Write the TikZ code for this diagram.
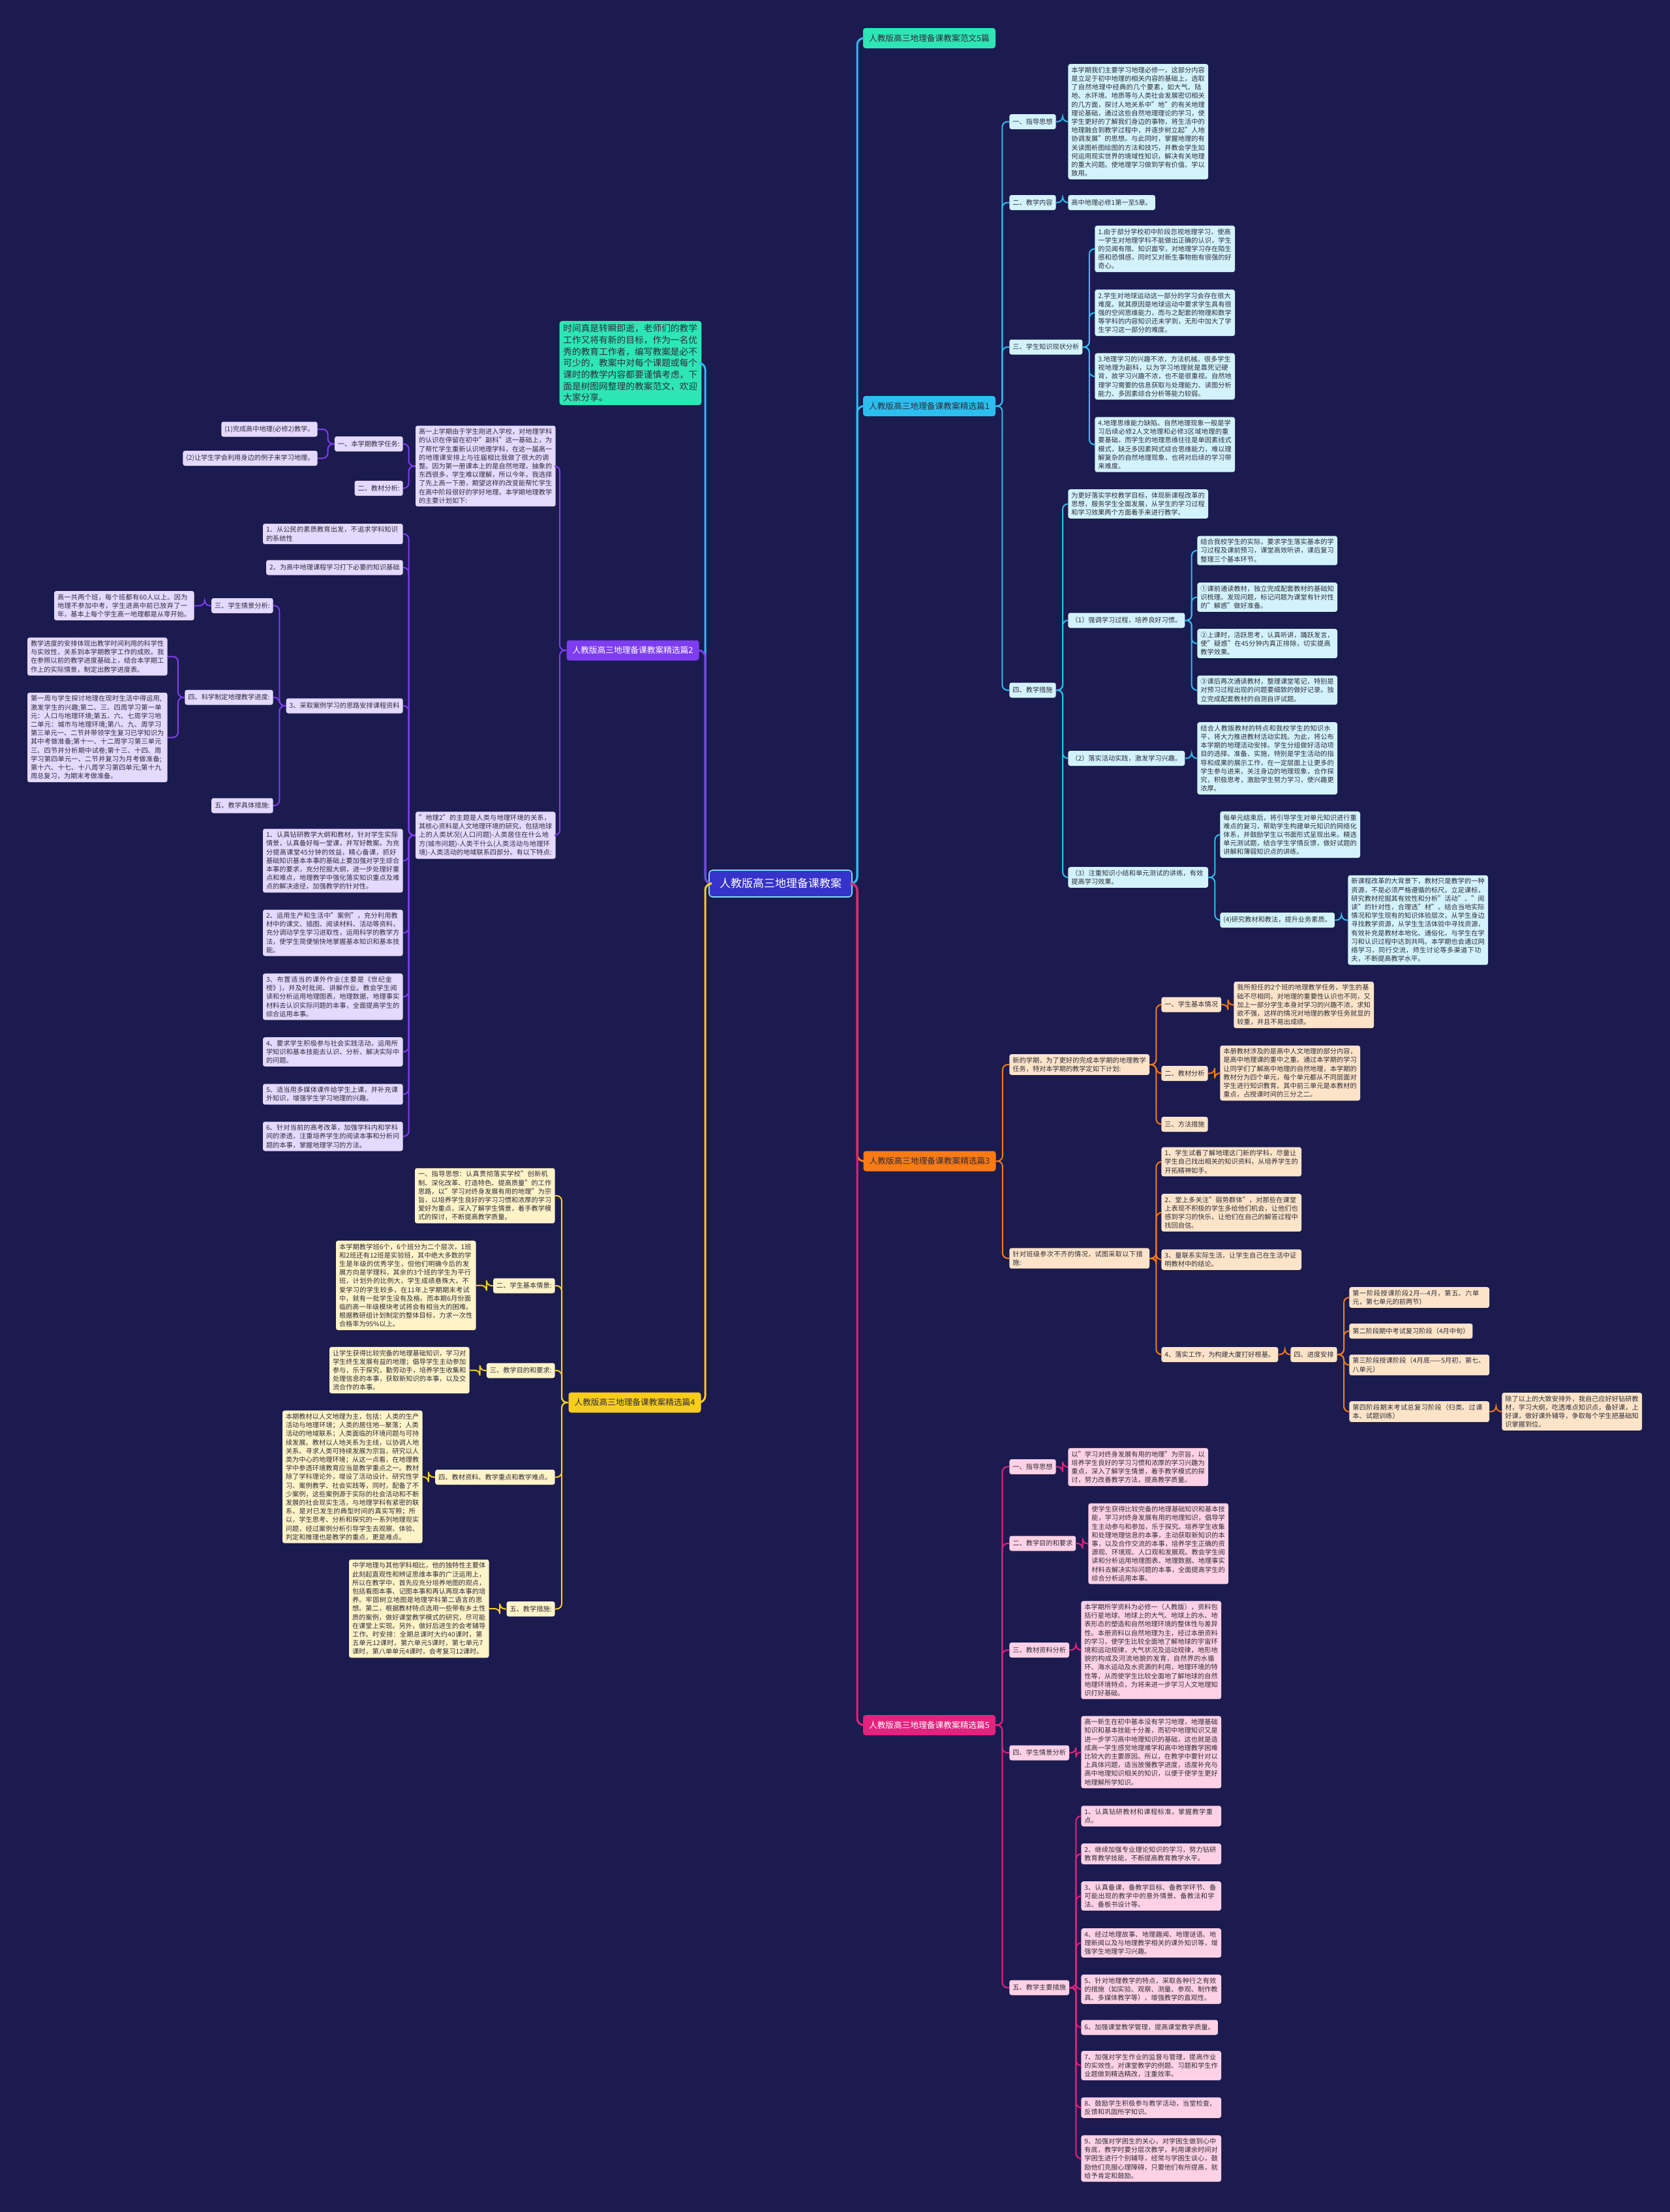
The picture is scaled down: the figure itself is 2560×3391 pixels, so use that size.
\documentclass[tikz,border=0pt]{standalone}
\usepackage{fontspec}
\setmainfont{Noto Sans CJK SC}
\XeTeXlinebreaklocale "zh"
\XeTeXlinebreakskip=0pt plus 0.6pt
\definecolor{bg}{HTML}{1B1B50}
\definecolor{txt}{HTML}{2E2E3A}
\definecolor{c0}{HTML}{2EE6B4}
\definecolor{c1}{HTML}{2BBFEF}
\definecolor{c1l}{HTML}{D3F3FC}
\definecolor{c2}{HTML}{7E3DF0}
\definecolor{c2l}{HTML}{E4D9FF}
\definecolor{c3}{HTML}{FA7A14}
\definecolor{c3l}{HTML}{FDE4C9}
\definecolor{c4}{HTML}{F9CD1C}
\definecolor{c4l}{HTML}{FFF3C8}
\definecolor{c5}{HTML}{E5227E}
\definecolor{c5l}{HTML}{FFD1E6}
\definecolor{rootc}{HTML}{3533C9}
\newcommand\fsz{\fontsize{5.1pt}{6.6pt}\selectfont}
\newcommand\labfsz{\fontsize{6.35pt}{7.5pt}\selectfont}
\newcommand\introfsz{\fontsize{6.85pt}{8.85pt}\selectfont}
\newcommand\rootfsz{\fontsize{8.5pt}{10pt}\selectfont}
\newcommand\edR[3]{\draw[#1] (#2.east) -- ++(10,0) |- (#3.west);}
\newcommand\edL[3]{\draw[#1] (#2.west) -- ++(-10,0) |- (#3.east);}
\begin{document}
\begin{tikzpicture}[x=0.5pt,y=-0.5pt,
  base/.style={rounded corners=1.6pt, inner xsep=2.5pt, inner ysep=2.2pt, font=\fsz, text=txt, align=left},
  tb/.style={base, text width=102.3pt},
  sl/.style={base, minimum height=11.5pt},
  f1/.style={fill=c1l}, f2/.style={fill=c2l}, f3/.style={fill=c3l}, f4/.style={fill=c4l}, f5/.style={fill=c5l},
  l1/.style={draw=c1, line width=1pt, rounded corners=4pt},
  l2/.style={draw=c2, line width=1pt, rounded corners=4pt},
  l3/.style={draw=c3, line width=1pt, rounded corners=4pt},
  l4/.style={draw=c4, line width=1pt, rounded corners=4pt},
  l5/.style={draw=c5, line width=1pt, rounded corners=4pt},
  mainline/.style={line width=1.5pt, rounded corners=5pt},
  lab/.style={rounded corners=2pt, font=\labfsz, text=txt, minimum width=101.5pt, minimum height=15.5pt, inner sep=2pt},
  rootbox/.style={rounded corners=2.5pt, font=\rootfsz, text=white, fill=rootc, draw=c1!60!white, line width=0.8pt, minimum width=109.5pt, minimum height=20.5pt},
  introbox/.style={rounded corners=2pt, font=\introfsz, text=txt, fill=c0, align=left, text width=103.2pt, inner xsep=2.8pt, inner ysep=2.5pt}
]
\fill[bg] (0,0) rectangle (2560,3391);
\useasboundingbox (0,0) rectangle (2560,3391);

% ---------- root and branch labels
\node[rootbox] (R) at (1196.5,1354.5) {人教版高三地理备课教案};
\node[introbox] (I) at (966.5,556.5) {时间真是转瞬即逝，老师们的教学工作又将有新的目标，作为一名优秀的教育工作者，编写教案是必不可少的，教案中对每个课题或每个课时的教学内容都要谨慎考虑，下面是树图网整理的教案范文，欢迎大家分享。};
\node[lab, fill=c0] (L0) at (1424.5,58.5) {人教版高三地理备课教案范文5篇};
\node[lab, fill=c1] (L1) at (1424.5,622.5) {人教版高三地理备课教案精选篇1};
\node[lab, fill=c3] (L3) at (1425,1780) {人教版高三地理备课教案精选篇3};
\node[lab, fill=c5, text=white] (L5) at (1424.5,2644.5) {人教版高三地理备课教案精选篇5};
\node[lab, fill=c2, text=white] (L2) at (970,997) {人教版高三地理备课教案精选篇2};
\node[lab, fill=c4] (L4) at (973,2150) {人教版高三地理备课教案精选篇4};

\draw[mainline, draw=c1] (R.east) -- (1314,1354.5) |- (L0.west);
\draw[mainline, draw=c1] (R.east) -- (1314,1354.5) |- (L1.west);
\draw[mainline, draw=c3] (R.east) -- (1314,1354.5) |- (L3.west);
\draw[mainline, draw=c5] (R.east) -- (1314,1354.5) |- (L5.west);
\draw[mainline, draw=c1] (R.west) -- (1081,1354.5) |- (I.east);
\draw[mainline, draw=c2] (R.west) -- (1081,1354.5) |- (L2.east);
\draw[mainline, draw=c4] (R.west) -- (1081,1354.5) |- (L4.east);

% ---------- 精选篇1
\node[sl, f1, anchor=west] (A1) at (1547,186.5) {一、指导思想};
\node[tb, f1, anchor=west] (A1t) at (1637,186.5) {本学期我们主要学习地理必修一，这部分内容是立足于初中地理的相关内容的基础上，选取了自然地理中经典的几个要素，如大气、陆地、水环境、地质等与人类社会发展密切相关的几方面，探讨人地关系中"地"的有关地理理论基础，通过这些自然地理理论的学习，使学生更好的了解我们身边的事物，将生活中的地理融合到教学过程中，并逐步树立起"人地协调发展"的思想。与此同时，掌握地理的有关读图析图绘图的方法和技巧，并教会学生如何运用现实世界的境域性知识，解决有关地理的重大问题。使地理学习做到学有价值、学以致用。};
\node[sl, f1, anchor=west] (A2) at (1547,310.5) {二、教学内容};
\node[sl, f1, anchor=west] (A2t) at (1637,310.5) {高中地理必修1第一至5章。};
\node[sl, f1, anchor=west] (A3) at (1547,532) {三、学生知识现状分析};
\node[tb, f1, anchor=west] (A3a) at (1678,381.5) {1.由于部分学校初中阶段忽视地理学习，使高一学生对地理学科不能做出正确的认识，学生的见闻有限、知识面窄，对地理学习存在陌生感和恐惧感，同时又对新生事物抱有很强的好奇心。};
\node[tb, f1, anchor=west] (A3b) at (1678,479.5) {2.学生对地球运动这一部分的学习会存在很大难度。就其原因是地球运动中要求学生具有很强的空间思维能力，而与之配套的物理和数学等学科的内容知识还未学到，无形中加大了学生学习这一部分的难度。};
\node[tb, f1, anchor=west] (A3c) at (1678,577) {3.地理学习的兴趣不浓，方法机械。很多学生视地理为副科，以为学习地理就是靠死记硬背，故学习兴趣不浓，也不是很重视。自然地理学习需要的信息获取与处理能力、读图分析能力、多因素综合分析等能力较弱。};
\node[tb, f1, anchor=west] (A3d) at (1678,681.5) {4.地理思维能力缺陷。自然地理现象一般是学习后续必修2人文地理和必修3区域地理的重要基础，而学生的地理思维往往是单因素线式模式，缺乏多因素网式综合思维能力，难以理解复杂的自然地理现象，也将对后续的学习带来难度。};
\node[sl, f1, anchor=west] (A4) at (1547,1058) {四、教学措施};
\node[tb, f1, anchor=west] (A4a) at (1637,772.5) {为更好落实学校教学目标，体现新课程改革的思想，服务学生全面发展，从学生的学习过程和学习效果两个方面着手来进行教学。};
\node[sl, f1, anchor=west] (A4b) at (1637,951) {（1）强调学习过程，培养良好习惯。};
\node[tb, f1, anchor=west] (A4b1) at (1835,844) {结合我校学生的实际，要求学生落实基本的学习过程及课前预习，课堂高效听讲，课后复习整理三个基本环节。};
\node[tb, f1, anchor=west] (A4b2) at (1835,915.5) {①课前通读教材，独立完成配套教材的基础知识梳理。发现问题，标记问题为课堂有针对性的"解惑"做好准备。};
\node[tb, f1, anchor=west] (A4b3) at (1835,986.5) {②上课时，活跃思考，认真听讲，踊跃发言，使"疑惑"在45分钟内真正排除，切实提高教学效果。};
\node[tb, f1, anchor=west] (A4b4) at (1835,1058) {③课后再次通读教材，整理课堂笔记，特别是对预习过程出现的问题要细致的做好记录。独立完成配套教材的自测自评试题。};
\node[sl, f1, anchor=west] (A4c) at (1637,1162.5) {（2）落实活动实践，激发学习兴趣。};
\node[tb, f1, anchor=west] (A4c1) at (1835,1162.5) {结合人教版教材的特点和我校学生的知识水平，将大力推进教材活动实践。为此，将公布本学期的地理活动安排。学生分组做好活动项目的选择、准备、实施，特别是学生活动的指导和成果的展示工作，在一定层面上让更多的学生参与进来，关注身边的地理现象，合作探究，积极思考，激励学生努力学习，使兴趣更浓厚。};
\node[tb, f1, anchor=west] (A4d) at (1637,1345) {（3）注重知识小结和单元测试的讲练，有效提高学习效果。};
\node[tb, f1, anchor=west] (A4d1) at (1870,1279.5) {每单元结束后，将引导学生对单元知识进行重难点的复习，帮助学生构建单元知识的网络化体系，并鼓励学生以书面形式呈现出来。精选单元测试题，结合学生学情反馈，做好试题的讲解和薄弱知识点的讲练。};
\node[sl, f1, anchor=west] (A4d2) at (1870,1410.5) {(4)研究教材和教法，提升业务素质。};
\node[tb, f1, anchor=west] (A4d2a) at (2066,1410.5) {新课程改革的大背景下，教材只是教学的一种资源，不是必须严格遵循的标尺。立足课标，研究教材挖掘其有效性和分析"活动"、"阅读"的针对性，合理选"材"。结合当地实际情况和学生现有的知识体验层次，从学生身边寻找教学资源，从学生生活体验中寻找资源，有效补充是教材本地化、通俗化，与学生在学习和认识过程中达到共鸣。本学期也会通过网络学习，同行交流，师生讨论等多渠道下功夫，不断提高教学水平。};

\edR{l1}{L1}{A1} \edR{l1}{L1}{A2} \edR{l1}{L1}{A3} \edR{l1}{L1}{A4}
\edR{l1}{A1}{A1t} \edR{l1}{A2}{A2t}
\edR{l1}{A3}{A3a} \edR{l1}{A3}{A3b} \edR{l1}{A3}{A3c} \edR{l1}{A3}{A3d}
\edR{l1}{A4}{A4a} \edR{l1}{A4}{A4b} \edR{l1}{A4}{A4c} \edR{l1}{A4}{A4d}
\edR{l1}{A4b}{A4b1} \edR{l1}{A4b}{A4b2} \edR{l1}{A4b}{A4b3} \edR{l1}{A4b}{A4b4}
\edR{l1}{A4c}{A4c1}
\edR{l1}{A4d}{A4d1} \edR{l1}{A4d}{A4d2} \edR{l1}{A4d2}{A4d2a}

% ---------- 精选篇3
\node[tb, f3, anchor=west] (B1) at (1547,1632) {新的学期，为了更好的完成本学期的地理教学任务，特对本学期的教学定如下计划:};
\node[sl, f3, anchor=west] (B1a) at (1780,1540) {一、学生基本情况};
\node[tb, f3, anchor=west] (B1at) at (1891,1540.5) {我所担任的2个班的地理教学任务，学生的基础不尽相同，对地理的重要性认识也不同，又加上一部分学生本身对学习的兴趣不浓，求知欲不强，这样的情况对地理的教学任务就显的较重，并且不易出成绩。};
\node[sl, f3, anchor=west] (B1b) at (1780,1645.5) {二、教材分析};
\node[tb, f3, anchor=west] (B1bt) at (1870,1645) {本册教材涉及的是高中人文地理的部分内容，是高中地理课的重中之重。通过本学期的学习让同学们了解高中地理的自然地理，本学期的教材分为四个单元，每个单元都从不同层面对学生进行知识教育。其中前三单元是本教材的重点，占授课时间的三分之二。};
\node[sl, f3, anchor=west] (B1c) at (1780,1723.5) {三、方法措施};
\node[tb, f3, anchor=west] (B2) at (1547,1929) {针对班级参次不齐的情况，试图采取以下措施:};
\node[tb, f3, anchor=west] (B2a) at (1780,1781) {1、学生试着了解地理这门新的学科，尽量让学生自己找出相关的知识资料，从培养学生的开拓精神如手。};
\node[tb, f3, anchor=west] (B2b) at (1780,1859) {2、堂上多关注"弱势群体"，对那些在课堂上表现不积极的学生多给他们机会，让他们也感到学习的快乐，让他们在自己的解答过程中找回自信。};
\node[tb, f3, anchor=west] (B2c) at (1780,1931) {3、量联系实际生活，让学生自己在生活中证明教材中的结论。};
\node[sl, f3, anchor=west] (B2d) at (1780,2076.5) {4、落实工作，为构建大厦打好根基。};
\node[sl, f3, anchor=west] (B2e) at (1978,2076.5) {四、进度安排};
\node[tb, f3, anchor=west] (B2e1) at (2068,1989) {第一阶段授课阶段2月-{}-{}-4月，第五、六单元，第七单元的前两节）};
\node[sl, f3, anchor=west] (B2e2) at (2068,2040.5) {第二阶段期中考试复习阶段（4月中旬）};
\node[tb, f3, anchor=west] (B2e3) at (2068,2092.5) {第三阶段授课阶段（4月底——5月初，第七、八单元）};
\node[tb, f3, anchor=west] (B2e4) at (2068,2164) {第四阶段期末考试总复习阶段（归类、过课本、试题训练）};
\node[tb, f3, anchor=west] (B2e4a) at (2302,2164) {除了以上的大致安排外，我自己应好好钻研教材，学习大纲，吃透难点知识点，备好课，上好课，做好课外辅导，争取每个学生把基础知识掌握到位。};

\edR{l3}{L3}{B1} \edR{l3}{L3}{B2}
\edR{l3}{B1}{B1a} \edR{l3}{B1}{B1b} \edR{l3}{B1}{B1c}
\edR{l3}{B1a}{B1at} \edR{l3}{B1b}{B1bt}
\edR{l3}{B2}{B2a} \edR{l3}{B2}{B2b} \edR{l3}{B2}{B2c} \edR{l3}{B2}{B2d}
\edR{l3}{B2d}{B2e}
\edR{l3}{B2e}{B2e1} \edR{l3}{B2e}{B2e2} \edR{l3}{B2e}{B2e3} \edR{l3}{B2e}{B2e4}
\edR{l3}{B2e4}{B2e4a}

% ---------- 精选篇5
\node[sl, f5, anchor=west] (C1) at (1547,2248.5) {一、指导思想};
\node[tb, f5, anchor=west] (C1t) at (1637,2249) {以"学习对终身发展有用的地理"为宗旨，以培养学生良好的学习习惯和浓厚的学习兴趣为重点，深入了解学生情景，着手教学模式的探讨，努力改善教学方法，提高教学质量。};
\node[sl, f5, anchor=west] (C2) at (1547,2366) {二、教学目的和要求};
\node[tb, f5, anchor=west] (C2t) at (1668,2366.5) {使学生获得比较完备的地理基础知识和基本技能，学习对终身发展有用的地理知识，倡导学生主动参与和参加，乐于探究。培养学生收集和处理地理信息的本事，主动获取新知识的本事，以及合作交流的本事，培养学生正确的资源观、环境观、人口观和发展观。教会学生阅读和分析运用地理图表、地理数据、地理事实材料去解决实际问题的本事，全面提高学生的综合分析运用本事。};
\node[sl, f5, anchor=west] (C3) at (1547,2529.5) {三、教材资料分析};
\node[tb, f5, anchor=west] (C3t) at (1657,2529.5) {本学期所学资料为必修一（人教版），资料包括行星地球、地球上的大气、地球上的水、地表形态的塑造和自然地理环境的整体性与差异性。本册资料以自然地理为主，经过本册资料的学习，使学生比较全面地了解地球的宇宙环境和运动规律，大气状况及运动规律，地形地貌的构成及河流地貌的发育，自然界的水循环、海水运动及水资源的利用，地理环境的特性等，从而使学生比较全面地了解地球的自然地理环境特点，为将来进一步学习人文地理知识打好基础。};
\node[sl, f5, anchor=west] (C4) at (1547,2687) {四、学生情景分析};
\node[tb, f5, anchor=west] (C4t) at (1657,2686) {高一新生在初中基本没有学习地理，地理基础知识和基本技能十分差，而初中地理知识又是进一步学习高中地理知识的基础，这也就是造成高一学生感觉地理难学和高中地理教学困难比较大的主要原因。所以，在教学中要针对以上具体问题，适当放慢教学进度，适度补充与高中地理知识相关的知识，以便于使学生更好地理解所学知识。};
\node[sl, f5, anchor=west] (C5) at (1547,3047) {五、教学主要措施};
\node[tb, f5, anchor=west] (C51) at (1657,2784) {1、认真钻研教材和课程标准，掌握教学重点。};
\node[tb, f5, anchor=west] (C52) at (1657,2842) {2、继续加强专业理论知识的学习，努力钻研教育教学技能，不断提高教育教学水平。};
\node[tb, f5, anchor=west] (C53) at (1657,2906.5) {3、认真备课，备教学目标、备教学环节、备可能出现的教学中的意外情景、备教法和学法、备板书设计等。};
\node[tb, f5, anchor=west] (C54) at (1657,2978.5) {4、经过地理故事、地理趣闻、地理谜语、地理新闻以及与地理教学相关的课外知识等，增强学生地理学习兴趣。};
\node[tb, f5, anchor=west] (C55) at (1657,3049.5) {5、针对地理教学的特点，采取各种行之有效的措施（如实验、观察、测量、参观、制作教具、多媒体教学等），增强教学的直观性。};
\node[sl, f5, anchor=west] (C56) at (1657,3108) {6、加强课堂教学管理，提高课堂教学质量。};
\node[tb, f5, anchor=west] (C57) at (1657,3166.5) {7、加强对学生作业的监督与管理，提高作业的实效性。对课堂教学的例题、习题和学生作业题做到精选精改，注重效率。};
\node[tb, f5, anchor=west] (C58) at (1657,3231) {8、鼓励学生积极参与教学活动，当堂检查、反馈和巩固所学知识。};
\node[tb, f5, anchor=west] (C59) at (1657,3309) {9、加强对学困生的关心，对学困生做到心中有底，教学时要分层次教学，利用课余时间对学困生进行个别辅导，经常与学困生谈心，鼓励他们克服心理障碍，只要他们有所提高，就给予肯定和鼓励。};

\edR{l5}{L5}{C1} \edR{l5}{L5}{C2} \edR{l5}{L5}{C3} \edR{l5}{L5}{C4} \edR{l5}{L5}{C5}
\edR{l5}{C1}{C1t} \edR{l5}{C2}{C2t} \edR{l5}{C3}{C3t} \edR{l5}{C4}{C4t}
\edR{l5}{C5}{C51} \edR{l5}{C5}{C52} \edR{l5}{C5}{C53} \edR{l5}{C5}{C54} \edR{l5}{C5}{C55}
\edR{l5}{C5}{C56} \edR{l5}{C5}{C57} \edR{l5}{C5}{C58} \edR{l5}{C5}{C59}

% ---------- 精选篇2
\node[tb, f2, anchor=east] (D1) at (852,714.5) {高一上学期由于学生刚进入学校，对地理学科的认识在停留在初中"副科"这一基础上，为了帮忙学生重新认识地理学科，在这一届高一的地理课安排上与往届相比我做了很大的调整。因为第一册课本上的是自然地理，抽象的东西很多，学生难以理解，所以今年，我选择了先上高一下册，期望这样的改变能帮忙学生在高中阶段很好的学好地理。本学期地理教学的主要计划如下:};
\node[sl, f2, anchor=east] (D1a) at (618,680.5) {一、本学期教学任务:};
\node[sl, f2, anchor=east] (D1a1) at (487,658) {(1)完成高中地理(必修2)教学。};
\node[sl, f2, anchor=east] (D1a2) at (487,702.5) {(2)让学生学会利用身边的例子来学习地理。};
\node[sl, f2, anchor=east] (D1b) at (618,748.5) {二、教材分析:};
\node[tb, f2, anchor=east] (D2) at (852,1280.5) {"地理2"的主题是人类与地理环境的关系，其核心资料是人文地理环境的研究，包括地球上的人类状况(人口问题)-人类居住在什么地方(城市问题)-人类干什么(人类活动与地理环境)-人类活动的地域联系四部分。有以下特点:};
\node[tb, f2, anchor=east] (D2a) at (618,818.5) {1、从公民的素质教育出发，不追求学科知识的系统性};
\node[sl, f2, anchor=east] (D2b) at (618,870) {2、为高中地理课程学习打下必要的知识基础};
\node[sl, f2, anchor=east] (D2c) at (618,1082) {3、采取案例学习的思路安排课程资料};
\node[sl, f2, anchor=east] (D2c1) at (419,928.5) {三、学生情景分析:};
\node[tb, f2, anchor=east] (D2c1t) at (298,928.5) {高一共两个班，每个班都有60人以上。因为地理不参加中考，学生进高中前已放弃了一年，基本上每个学生高一地理都是从零开始。};
\node[sl, f2, anchor=east] (D2c2) at (419,1069) {四、科学制定地理教学进度:};
\node[tb, f2, anchor=east] (D2c2a) at (257,1006.5) {教学进度的安排体现出教学时间利用的科学性与实效性，关系到本学期教学工作的成败。我在参照以前的教学进度基础上，结合本学期工作上的实际情景，制定出教学进度表。};
\node[tb, f2, anchor=east] (D2c2b) at (257,1130.5) {第一周与学生探讨地理在现时生活中得运用,激发学生的兴趣;第二、三、四周学习第一单元：人口与地理环境;第五、六、七周学习地二单元：城市与地理环境;第八、九、周学习第三单元一、二节并带领学生复习已学知识为其中考做准备;第十一、十二周学习第三单元三、四节并分析期中试卷;第十三、十四、周学习第四单元一、二节并复习为月考做准备;第十六、十七、十八周学习第四单元;第十九周总复习，为期末考做准备。};
\node[sl, f2, anchor=east] (D2c3) at (419,1235) {五、教学具体措施:};
\node[tb, f2, anchor=east] (D2d) at (618,1319.5) {1、认真钻研教学大纲和教材，针对学生实际情景，认真备好每一堂课，并写好教案。为充分提高课堂45分钟的效益，精心备课，抓好基础知识基本本事的基础上要加强对学生综合本事的要求，充分挖掘大纲，进一步处理好重点和难点，地理教学中强化落实知识重点及难点的解决途径，加强教学的针对性。};
\node[tb, f2, anchor=east] (D2e) at (618,1430) {2、运用生产和生活中"案例"，充分利用教材中的课文、插图、阅读材料、活动等资料，充分调动学生学习进取性，运用科学的教学方法，使学生简便愉快地掌握基本知识和基本技能。};
\node[tb, f2, anchor=east] (D2f) at (618,1528) {3、布置适当的课外作业(主要是《世纪金榜》)，并及时批阅、讲解作业。教会学生阅读和分析运用地理图表，地理数据，地理事实材料去认识实际问题的本事，全面提高学生的综合运用本事。};
\node[tb, f2, anchor=east] (D2g) at (618,1612.5) {4、要求学生积极参与社会实践活动，运用所学知识和基本技能去认识、分析、解决实际中的问题。};
\node[tb, f2, anchor=east] (D2h) at (618,1677.5) {5、适当用多媒体课件给学生上课，并补充课外知识，增强学生学习地理的兴趣。};
\node[tb, f2, anchor=east] (D2i) at (618,1742) {6、针对当前的高考改革，加强学科内和学科间的渗透，注重培养学生的阅读本事和分析问题的本事，掌握地理学习的方法。};

\edL{l2}{L2}{D1} \edL{l2}{L2}{D2}
\edL{l2}{D1}{D1a} \edL{l2}{D1}{D1b}
\edL{l2}{D1a}{D1a1} \edL{l2}{D1a}{D1a2}
\edL{l2}{D2}{D2a} \edL{l2}{D2}{D2b} \edL{l2}{D2}{D2c} \edL{l2}{D2}{D2d} \edL{l2}{D2}{D2e}
\edL{l2}{D2}{D2f} \edL{l2}{D2}{D2g} \edL{l2}{D2}{D2h} \edL{l2}{D2}{D2i}
\edL{l2}{D2c}{D2c1} \edL{l2}{D2c}{D2c2} \edL{l2}{D2c}{D2c3}
\edL{l2}{D2c1}{D2c1t}
\edL{l2}{D2c2}{D2c2a} \edL{l2}{D2c2}{D2c2b}

% ---------- 精选篇4
\node[tb, f4, anchor=east] (E1) at (851,1833) {一、指导思想：认真贯彻落实学校"创新机制、深化改革、打造特色、提高质量"的工作思路，以"学习对终身发展有用的地理"为宗旨，以培养学生良好的学习习惯和浓厚的学习爱好为重点，深入了解学生情景，着手教学模式的探讨，不断提高教学质量。};
\node[sl, f4, anchor=east] (E2) at (851,1971) {二、学生基本情景:};
\node[tb, f4, anchor=east] (E2t) at (730,1970.5) {本学期教学班6个，6个班分为二个层次，1班和2班还有12班是实验班，其中绝大多数的学生是年级的优秀学生，但他们明确今后的发展方向是学理科，其余的3个班的学生为平行班，计划外的比例大，学生成绩悬殊大，不爱学习的学生较多，在11年上学期期末考试中，就有一批学生没有及格。而本期6月份面临的高一年级模块考试将会有相当大的困难。根据教研组计划制定的整体目标，力求一次性合格率为95\%以上。};
\node[sl, f4, anchor=east] (E3) at (851,2101) {三、教学目的和要求:};
\node[tb, f4, anchor=east] (E3t) at (720,2100.5) {让学生获得比较完备的地理基础知识，学习对学生终生发展有益的地理；倡导学生主动参加参与，乐于探究，勤劳动手，培养学生收集和处理信息的本事，获取新知识的本事，以及交流合作的本事。};
\node[sl, f4, anchor=east] (E4) at (851,2264.5) {四、教材资料、教学重点和教学难点。};
\node[tb, f4, anchor=east] (E4t) at (648,2264) {本期教材以人文地理为主，包括：人类的生产活动与地理环境；人类的居住地—聚落；人类活动的地域联系；人类面临的环境问题与可持续发展。教材以人地关系为主线，以协调人地关系、寻求人类可持续发展为宗旨，研究以人类为中心的地理环境；从这一点看，在地理教学中参透环境教育应当是教学重点之一。教材除了学科理论外，增设了活动设计、研究性学习、案例教学、社会实践等，同时，配备了不少案例，这些案例源于实际的社会活动和不断发展的社会现实生活，与地理学科有紧密的联系，是对已发生的典型时间的真实写照；所以，学生思考、分析和探究的一系列地理现实问题，经过案例分析引导学生去观察、体验、判定和推理也是教学的重点，更是难点。};
\node[sl, f4, anchor=east] (E5) at (851,2466.5) {五、教学措施:};
\node[tb, f4, anchor=east] (E5t) at (750,2466) {中学地理与其他学科相比，他的独特性主要体此刻起直观性和辨证思维本事的广泛运用上，所以在教学中，首先应充分培养地图的观点，包括看图本事、记图本事和再认再现本事的培养。牢固树立地图是地理学科第二语言的思想。第二，根据教材特点选用一些带有乡土性质的案例，做好课堂教学模式的研究，尽可能在课堂上实现。另外，做好后进生的会考辅导工作。时安排：全期总课时大约40课时，第五单元12课时，第六单元5课时，第七单元7课时，第八单单元4课时，会考复习12课时。};

\edL{l4}{L4}{E1} \edL{l4}{L4}{E2} \edL{l4}{L4}{E3} \edL{l4}{L4}{E4} \edL{l4}{L4}{E5}
\edL{l4}{E2}{E2t} \edL{l4}{E3}{E3t} \edL{l4}{E4}{E4t} \edL{l4}{E5}{E5t}
\end{tikzpicture}
\end{document}
